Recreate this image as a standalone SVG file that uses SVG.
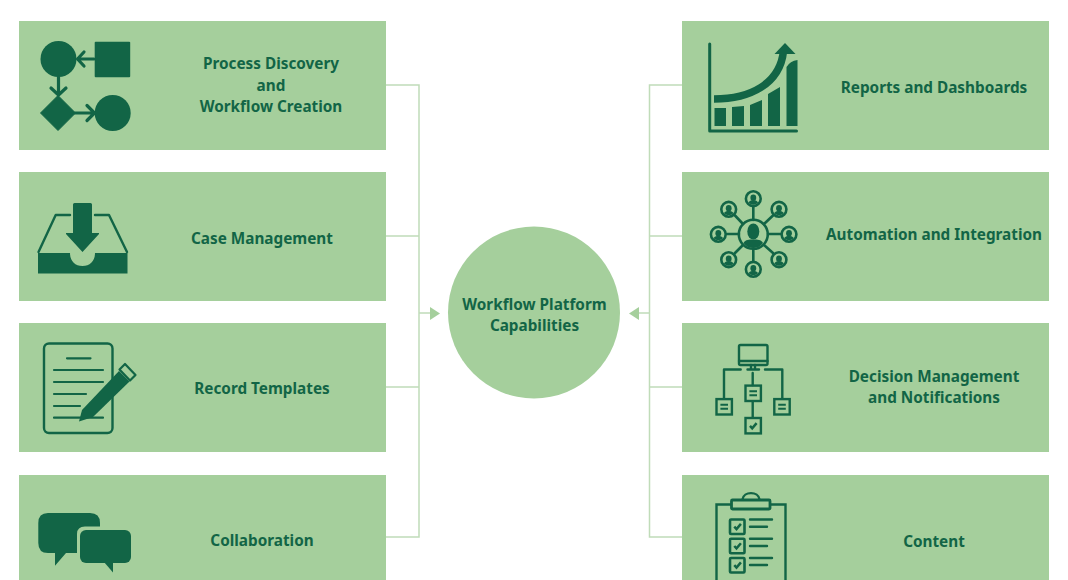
<svg xmlns="http://www.w3.org/2000/svg" xmlns:xlink="http://www.w3.org/1999/xlink" width="1068" height="580" viewBox="0 0 1068 580">
<style>
.box{fill:#a5cf9c}
.t{font-family:"Noto Sans","Liberation Sans",sans-serif;font-weight:700;font-size:15.3px;letter-spacing:0;fill:#126546;text-anchor:middle}
.d{fill:#126546}
.s{fill:none;stroke:#126546;stroke-linecap:round;stroke-linejoin:round}
.c{fill:none;stroke:#c0dcb9;stroke-width:1.5}
.a{fill:#a5cf9c}
</style>
<defs>
<g id="person"><circle r="7.400" fill="none" stroke="#126546" stroke-width="2.600"/><ellipse cy="-1" rx="2.900" ry="3.300" fill="#126546"/><path d="M-4.800 3.800C-3.500 1.800-1.500 1.600 0 1.600S3.500 1.800 4.800 3.800C3.200 5.300 1.600 6 0 6S-3.200 5.300-4.800 3.800Z" fill="#126546"/></g>
<g id="doc"><rect x="-7.700" y="-7.700" width="15.400" height="15.400" fill="none" stroke="#126546" stroke-width="2.400"/><path d="M-3.800-2H3.800M-3.800 2H3.800" fill="none" stroke="#126546" stroke-width="1.900"/></g>
<path id="tick" d="M-3.200 0.200L-1 2.600L3.400-2.600" fill="none" stroke="#126546" stroke-width="2.500"/>
</defs>
<g id="connectors">
<path class="c" d="M386 85H419V537H386M386 236H419M386 387H419M419 313H432"/>
<path class="c" d="M682 85H649.500V537H682M682 236H649.500M682 387H649.500M649.500 313H637"/>
<path class="a" d="M430 307L440 313.500L430 320Z"/>
<path class="a" d="M639 307L629 313.500L639 320Z"/>
</g>
<g id="center"><circle class="box" cx="534" cy="312.500" r="86"/><text class="t" x="534.500" y="309.500">Workflow Platform</text><text class="t" x="534.500" y="330.500">Capabilities</text></g>
<g id="process-discovery">
<rect class="box" x="19" y="21" width="367" height="129"/>
<circle class="d" cx="58.500" cy="59" r="18"/><rect class="d" x="94.700" y="41.700" width="35.500" height="35.500" rx="1"/>
<path class="d" d="M58 95.500L75.500 113L58 130.500L40.500 113Z" stroke="#126546" stroke-linejoin="round"/>
<circle class="d" cx="112.700" cy="113" r="18"/>
<path class="s" stroke-width="3.200" d="M94 59H78M84 52L77.500 59L84 66M58.500 77V95M51 88L58.500 95L66 88M75 113H94M87 105.500L94.500 113L87 120.500"/>
<text class="t" x="271" y="69">Process Discovery</text><text class="t" x="271" y="90.500">and</text><text class="t" x="271" y="112">Workflow Creation</text>
</g>
<g id="case-management">
<rect class="box" x="19" y="172" width="367" height="129"/>
<path class="d" d="M73 204.500Q73 203 74.500 203H90.500Q92 203 92 204.500V233H99V234L82.500 252L66 234V233H73Z"/>
<path class="s" stroke-width="2.400" stroke-linecap="butt" d="M70 215H55.700L38.500 252M95 215H109L127 252"/>
<path class="d" d="M38 253H70C70 261 75 266 82.500 266S95 261 95 253H127.500V273.500H38Z"/>
<text class="t" x="262" y="244">Case Management</text>
</g>
<g id="record-templates">
<rect class="box" x="19" y="323" width="367" height="129"/>
<rect x="44" y="343.500" width="68.500" height="89.500" rx="5" fill="none" stroke="#126546" stroke-width="2.400"/>
<path class="s" stroke-width="2.200" d="M67 358.300H90.500M54 370H103M54 382H103M54 394H86M54 406H80M54 417.700H103"/>
<path class="d" d="M79 421.500L82 410L119 371L129.500 381.500L93 417Z"/>
<path d="M119.500 369.500L125 364L135.500 375L130 380.500Z" fill="#a5cf9c" stroke="#126546" stroke-width="2.200" stroke-linejoin="round"/>
<text class="t" x="262" y="394">Record Templates</text>
</g>
<g id="collaboration">
<rect class="box" x="19" y="475" width="367" height="105"/>
<path class="d" d="M48 513H90Q100 513 100 523V526.500H85Q77 526.500 77 534V553H66L55 565.700V553H48Q38.300 553 38.300 543V523Q38.300 513 48 513Z"/>
<rect class="d" x="80" y="530" width="51" height="33" rx="6"/>
<path class="d" d="M104 562L113 572.500V562Z"/>
<text class="t" x="262" y="545.500">Collaboration</text>
</g>
<g id="reports">
<rect class="box" x="682" y="21" width="367" height="129"/>
<path class="s" stroke-width="3" d="M709.700 44V131H796.500"/>
<path class="d" d="M714.500 108H726V126H714.500ZM732 107L744 106V126H732ZM750 105L762 100V126H750ZM768 94L780 87V126H768ZM786.500 67Q790 61 797.500 60V126H786.500Z"/>
<path fill="none" stroke="#126546" stroke-width="7.500" d="M714 99C750 99 780 84 783.500 51"/>
<path class="d" d="M785 43L795.500 54H774.500Z"/>
<text class="t" x="934" y="92.500">Reports and Dashboards</text>
</g>
<g id="automation">
<rect class="box" x="682" y="172" width="367" height="129"/>
<path class="s" stroke-width="2.600" stroke-linecap="butt" d="M753.300 207V220M753.300 249V261M727 234H739M768 234H781M735 215.500L743 224M773 215.500L764 224M735 253L743 245M773 253L764 245"/>
<circle cx="753.300" cy="234.300" r="14.500" fill="none" stroke="#126546" stroke-width="2.600"/>
<ellipse class="d" cx="753.300" cy="231.500" rx="6" ry="8"/>
<path class="d" d="M743.500 243C745.500 239.500 749 239.500 753.300 239.500S761 239.500 763 243C760.500 246.700 757 248 753.300 248S746 246.700 743.500 243Z"/>
<use href="#person" x="753.300" y="198.700"/><use href="#person" x="718.300" y="234.300"/><use href="#person" x="789" y="234.300"/><use href="#person" x="753.300" y="269.300"/>
<use href="#person" x="728.700" y="209.300"/><use href="#person" x="779" y="209.300"/><use href="#person" x="728.700" y="259.700"/><use href="#person" x="779" y="259.700"/>
<text class="t" x="934" y="240">Automation and Integration</text>
</g>
<g id="decision">
<rect class="box" x="682" y="323" width="367" height="129"/>
<rect x="739" y="345" width="28.500" height="20" rx="1.500" fill="none" stroke="#126546" stroke-width="2.400"/>
<path class="s" stroke-width="2.400" stroke-linecap="butt" d="M739 361H767.500M751 365V369M755 365V369M747.500 369.500H759M740.700 369.500H724V398M765 369.500H782.300V398M752.700 373V385M752.700 402V417"/>
<use href="#doc" x="753.200" y="393.300"/><use href="#doc" x="724.200" y="406.800"/><use href="#doc" x="782" y="406.800"/>
<rect x="745.500" y="418" width="15.400" height="15.400" fill="none" stroke="#126546" stroke-width="2.400"/><use href="#tick" x="753.200" y="425.700"/>
<text class="t" x="934" y="382">Decision Management</text><text class="t" x="934" y="403">and Notifications</text>
</g>
<g id="content">
<rect class="box" x="682" y="475" width="367" height="105"/>
<path fill="none" stroke="#126546" stroke-width="2.400" d="M731 504.500H716.500V580M771 504.500H785.500V580M742.500 499.500C743.500 491 758.500 491 759.500 499.500"/>
<rect x="731.500" y="500" width="38.500" height="9" rx="1" fill="none" stroke="#126546" stroke-width="2.800"/>
<g fill="none" stroke="#126546" stroke-width="2.600"><rect x="730" y="519.500" width="14.500" height="14.500" rx="1"/><rect x="730" y="538.700" width="14.500" height="14.500" rx="1"/><rect x="730" y="558" width="14.500" height="14.500" rx="1"/></g>
<use href="#tick" x="737.500" y="526.500"/><use href="#tick" x="737.500" y="545.800"/><use href="#tick" x="737.500" y="565"/>
<path class="s" stroke-width="2.400" d="M750 519.500H772M750 526.700H767M750 538.700H772M750 546H767M750 558H772M750 565H767"/>
<text class="t" x="934" y="546.500">Content</text>
</g>
</svg>
